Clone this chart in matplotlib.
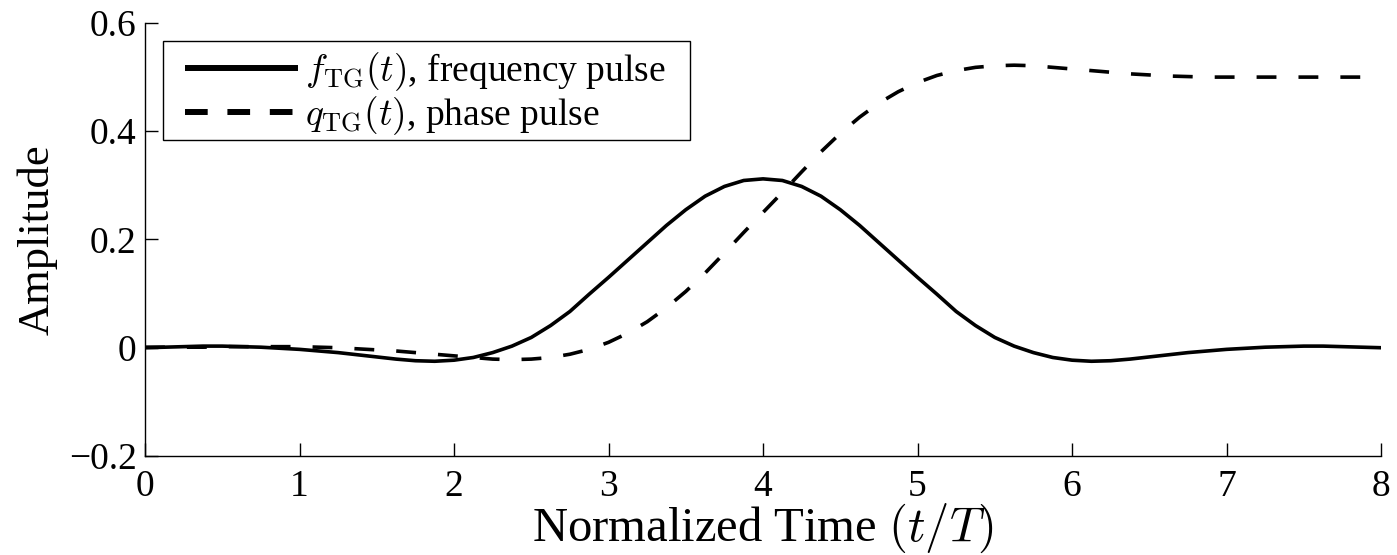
"""Tamed Gaussian frequency and phase pulse shapes."""

import matplotlib

matplotlib.use("Agg")
import matplotlib.pyplot as plt
from matplotlib.lines import Line2D
from matplotlib.patches import Rectangle

# normalized time grid (t/T)
time = [0.0, 0.125, 0.25, 0.375, 0.5, 0.625, 0.75, 0.875,
        1.0, 1.125, 1.25, 1.375, 1.5, 1.625, 1.75, 1.875,
        2.0, 2.125, 2.25, 2.375, 2.5, 2.625, 2.75, 2.875,
        3.0, 3.125, 3.25, 3.375, 3.5, 3.625, 3.75, 3.875,
        4.0, 4.125, 4.25, 4.375, 4.5, 4.625, 4.75, 4.875,
        5.0, 5.125, 5.25, 5.375, 5.5, 5.625, 5.75, 5.875,
        6.0, 6.125, 6.25, 6.375, 6.5, 6.625, 6.75, 6.875,
        7.0, 7.125, 7.25, 7.375, 7.5, 7.625, 7.75, 7.875,
        8.0]

# f_TG(t), frequency pulse
freq_pulse = [0.000, 0.001, 0.002, 0.003, 0.003, 0.002, 0.001, -0.001,
              -0.003, -0.006, -0.009, -0.013, -0.017, -0.021, -0.024, -0.025,
              -0.023, -0.018, -0.009, 0.003, 0.019, 0.041, 0.067, 0.099,
              0.130, 0.162, 0.194, 0.226, 0.255, 0.280, 0.298, 0.309,
              0.312, 0.309, 0.298, 0.280, 0.255, 0.226, 0.194, 0.162,
              0.130, 0.099, 0.067, 0.041, 0.019, 0.003, -0.009, -0.018,
              -0.023, -0.025, -0.024, -0.021, -0.017, -0.013, -0.009, -0.006,
              -0.003, -0.001, 0.001, 0.002, 0.003, 0.003, 0.002, 0.001,
              0.000]

# q_TG(t), phase pulse
phase_pulse = [0.001, 0.001, 0.001, 0.001, 0.002, 0.002, 0.002, 0.002,
               0.002, 0.001, 0.000, -0.002, -0.004, -0.006, -0.009, -0.012,
               -0.015, -0.018, -0.021, -0.022, -0.021, -0.018, -0.012, -0.003,
               0.010, 0.027, 0.048, 0.074, 0.104, 0.138, 0.175, 0.213,
               0.250, 0.287, 0.325, 0.362, 0.396, 0.426, 0.452, 0.473,
               0.490, 0.503, 0.512, 0.518, 0.521, 0.522, 0.521, 0.518,
               0.515, 0.512, 0.509, 0.506, 0.504, 0.502, 0.501, 0.500,
               0.500, 0.500, 0.500, 0.500, 0.500, 0.500, 0.500, 0.500,
               0.500]

x_ticks = [0, 1, 2, 3, 4, 5, 6, 7, 8]
y_ticks = [-0.2, 0, 0.2, 0.4, 0.6]
y_tick_labels = ["\u22120.2", "0", "0.2", "0.4", "0.6"]

plt.rcParams["font.family"] = ["Liberation Serif", "DejaVu Serif"]
plt.rcParams["mathtext.fontset"] = "cm"

fig = plt.figure(figsize=(13.97, 5.55), dpi=100)
ax = fig.add_axes([0.1038, 0.1784, 0.8848, 0.7802])

ax.plot(time, freq_pulse, color="black", linewidth=2.6, solid_capstyle="butt")
ax.plot(time, phase_pulse, color="black", linewidth=2.6, dashes=(5.5, 6.1))

ax.set_xlim(0, 8)
ax.set_ylim(-0.2, 0.6)
ax.set_xticks(x_ticks)
ax.set_yticks(y_ticks)
ax.set_yticklabels(y_tick_labels)

for side in ["top", "right"]:
    ax.spines[side].set_visible(False)
for side in ["left", "bottom"]:
    ax.spines[side].set_linewidth(1.0)

ax.tick_params(axis="both", direction="in", length=9.5, width=1.0, labelsize=27)
ax.tick_params(axis="x", pad=10)
ax.tick_params(axis="y", pad=6)

ax.set_xlabel("Normalized Time $(t/T)$", fontsize=35, labelpad=-2)
ax.set_ylabel("Amplitude", fontsize=32, labelpad=8)

# legend frame drawn separately so the padding can match the original box
ax.add_patch(Rectangle((0.0146, 0.7298), 0.4263, 0.2286, transform=ax.transAxes,
                       facecolor="white", edgecolor="black", linewidth=1.0,
                       zorder=4, clip_on=False))

# legend uses heavier handles than the plotted lines
handles = [
    Line2D([], [], color="black", linewidth=4.3, solid_capstyle="butt"),
    Line2D([], [], color="black", linewidth=4.3, dashes=(3.8, 3.3)),
]
labels = [
    r"$f_{\mathrm{TG}}(t)$, frequency pulse",
    r"$q_{\mathrm{TG}}(t)$, phase pulse",
]
leg = ax.legend(
    handles,
    labels,
    loc="upper left",
    bbox_to_anchor=(0.0324, 0.938),
    borderaxespad=0,
    borderpad=0,
    fontsize=27,
    handlelength=3.0,
    handletextpad=0.2,
    labelspacing=0.05,
    frameon=False,
)
leg.set_zorder(5)

fig.savefig("out.png", dpi=100)
